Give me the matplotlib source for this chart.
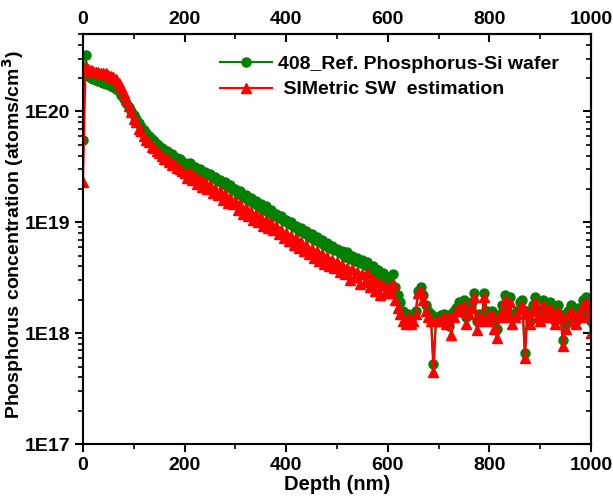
import numpy as np
import matplotlib
matplotlib.use("Agg")
from matplotlib import pyplot as plt
from matplotlib.ticker import MultipleLocator, LogLocator, FuncFormatter, NullFormatter

plt.rcParams['font.family'] = 'sans-serif'
plt.rcParams['font.sans-serif'] = ['Liberation Sans', 'DejaVu Sans']
plt.rcParams['font.weight'] = 'bold'
plt.rcParams['axes.labelweight'] = 'bold'
plt.rcParams['axes.linewidth'] = 1.5

# depth in nm, 5 nm steps
depth = np.arange(0, 1001, 5)

# concentrations in units of 1E18 atoms/cm3
ref_408 = [
    55, 320, 210, 200, 195, 192, 188, 185, 182, 178,
    175, 171, 166, 160, 152, 142, 130, 119, 109, 100,
    92, 85, 78, 73, 68, 64, 60, 57, 54, 51,
    49, 47, 45, 44, 42, 41, 39, 38, 37, 35,
    34, 32, 34, 31, 31.5, 29, 30, 28, 28.5, 26.5,
    27, 25, 25.5, 23.5, 24, 22, 23, 21, 21.5, 19.5,
    20, 18, 19, 17, 17.5, 16, 16.5, 15, 15.5, 14,
    14.5, 13, 14, 12.3, 13, 11.5, 12, 11, 11.5, 10.2,
    10.5, 9.6, 10, 9, 9.3, 8.4, 8.8, 8, 8.3, 7.4,
    7.8, 7, 7.3, 6.6, 6.9, 6.2, 6.5, 5.9, 6.1, 5.6,
    5.8, 5.3, 5.5, 4.9, 5.4, 4.7, 5.0, 4.5, 4.8, 4.3,
    4.6, 4.1, 4.4, 3.8, 4.0, 3.5, 3.7, 3.3, 3.5, 3.0,
    3.2, 2.9, 3.4, 2.6, 2.2, 1.9, 1.6, 1.4, 1.5, 1.3,
    1.5, 1.6, 2.4, 2.6, 2.2, 1.8, 1.6, 1.5, 0.53, 1.4,
    1.4, 1.45, 1.5, 1.4, 1.15, 1.5, 1.6, 1.7, 1.9, 1.8,
    2.0, 1.4, 1.7, 1.9, 2.3, 1.3, 1.5, 1.4, 2.3, 1.6,
    1.5, 1.6, 1.3, 1.1, 1.5, 1.8, 2.2, 1.6, 2.1, 1.4,
    1.5, 1.6, 1.9, 2.0, 0.67, 1.6, 1.3, 1.8, 2.1, 1.6,
    1.4, 2.0, 1.7, 1.5, 1.9, 1.6, 1.3, 1.8, 1.5, 0.86,
    1.2, 1.6, 1.8, 1.4, 1.3, 1.7, 1.5, 2.0, 2.1, 1.6,
    1.3,
]

simetric = [
    23, 250, 240, 235, 232, 228, 225, 222, 220, 224,
    215, 210, 205, 195, 180, 165, 148, 130, 112, 98,
    86, 80, 70, 66, 60, 55, 53, 48, 47, 44,
    42, 40, 37, 38, 35, 33, 34, 31, 30, 29,
    28, 25, 28.5, 24, 26, 22, 24.5, 21, 23, 20,
    21.5, 18.5, 20, 17.5, 19, 16, 18, 15, 16.5, 14.5,
    15.5, 13, 14.5, 12, 13.5, 11.5, 12.5, 10.5, 12, 10,
    11, 9.3, 10.5, 8.8, 9.8, 8.5, 9.2, 7.8, 8.6, 7.2,
    8, 6.8, 7.6, 6.3, 7.2, 5.9, 6.6, 5.5, 6.2, 5.2,
    5.8, 4.8, 5.5, 4.5, 5.2, 4.2, 4.9, 4.0, 4.6, 3.9,
    4.4, 3.6, 4.1, 3.4, 3.9, 3.0, 3.8, 3.2, 3.6, 2.8,
    3.4, 2.9, 3.5, 2.6, 3.1, 2.4, 2.9, 2.2, 2.7, 2.3,
    2.6, 2.3, 2.8, 2.0, 1.7, 1.5, 1.3, 1.2, 1.4, 1.2,
    1.3, 1.5, 2.3, 2.4, 2.0, 1.6, 1.4, 1.3, 0.45, 1.3,
    1.3, 1.35, 1.4, 1.2, 1.4, 0.96, 1.4, 1.6, 1.7, 1.6,
    1.8, 1.2, 1.5, 1.7, 2.1, 1.06, 1.4, 1.3, 2.1, 1.4,
    1.3, 1.5, 1.1, 0.9, 1.4, 1.6, 2.0, 1.4, 1.9, 1.2,
    1.4, 1.5, 1.7, 1.8, 0.6, 1.5, 1.2, 1.6, 1.9, 1.4,
    1.3, 1.8, 1.5, 1.4, 1.7, 1.4, 1.2, 1.6, 1.4, 0.76,
    1.1, 1.5, 1.6, 1.3, 1.2, 1.5, 1.4, 1.8, 1.9, 1.5,
    1.0,
]

ref_408 = np.array(ref_408) * 1e18
simetric = np.array(simetric) * 1e18

fig = plt.figure(figsize=(6.13, 4.99), dpi=100)
ax = fig.add_axes([0.1354, 0.110, 0.8286, 0.822])

ax.plot(depth, ref_408, color="green", marker="o", ms=6.5, lw=1.5,
        label="408_Ref. Phosphorus-Si wafer")
ax.plot(depth, simetric, color="red", marker="^", ms=7, lw=1.5,
        label=" SIMetric SW  estimation")

ax.set_yscale("log")
ax.set_xlim(0, 1000)
ax.set_ylim(1e17, 5e20)

ax.xaxis.set_major_locator(MultipleLocator(200))
ax.xaxis.set_minor_locator(MultipleLocator(100))
ax.yaxis.set_major_locator(LogLocator(base=10, numticks=10))
ax.yaxis.set_minor_locator(LogLocator(base=10, subs=np.arange(2, 10), numticks=20))
ax.yaxis.set_major_formatter(FuncFormatter(lambda v, p: "1E%d" % round(np.log10(v))))
ax.yaxis.set_minor_formatter(NullFormatter())

ax.tick_params(which='major', direction='out', length=6, width=1.5, labelsize=14, pad=3)
ax.tick_params(which='minor', direction='out', length=3.5, width=1.2)

# top and right: ticks pointing inward
top = ax.secondary_xaxis('top')
top.xaxis.set_major_locator(MultipleLocator(200))
top.xaxis.set_minor_locator(MultipleLocator(100))
top.tick_params(which='major', direction='in', length=6, width=1.5, labelsize=14, pad=4)
top.tick_params(which='minor', direction='in', length=3.5, width=1.2)

right = ax.secondary_yaxis('right')
right.yaxis.set_major_locator(LogLocator(base=10, numticks=10))
right.yaxis.set_minor_locator(LogLocator(base=10, subs=np.arange(2, 10), numticks=20))
right.yaxis.set_major_formatter(NullFormatter())
right.yaxis.set_minor_formatter(NullFormatter())
right.tick_params(which='major', direction='in', length=6, width=1.5)
right.tick_params(which='minor', direction='in', length=3.5, width=1.2)

ax.set_xlabel("Depth (nm)", fontsize=14.5, labelpad=1)
ax.set_ylabel(r"Phosphorus concentration (atoms/cm$^\mathbf{3}$)", fontsize=14)
ax.yaxis.set_label_coords(-0.112, 0.51)

ax.legend(loc="upper right", frameon=False, fontsize=14, handlelength=2.7,
          handletextpad=0.3, labelspacing=0.4, borderaxespad=0.6,
          bbox_to_anchor=(0.975, 0.995))

fig.savefig("out.png", dpi=100)
